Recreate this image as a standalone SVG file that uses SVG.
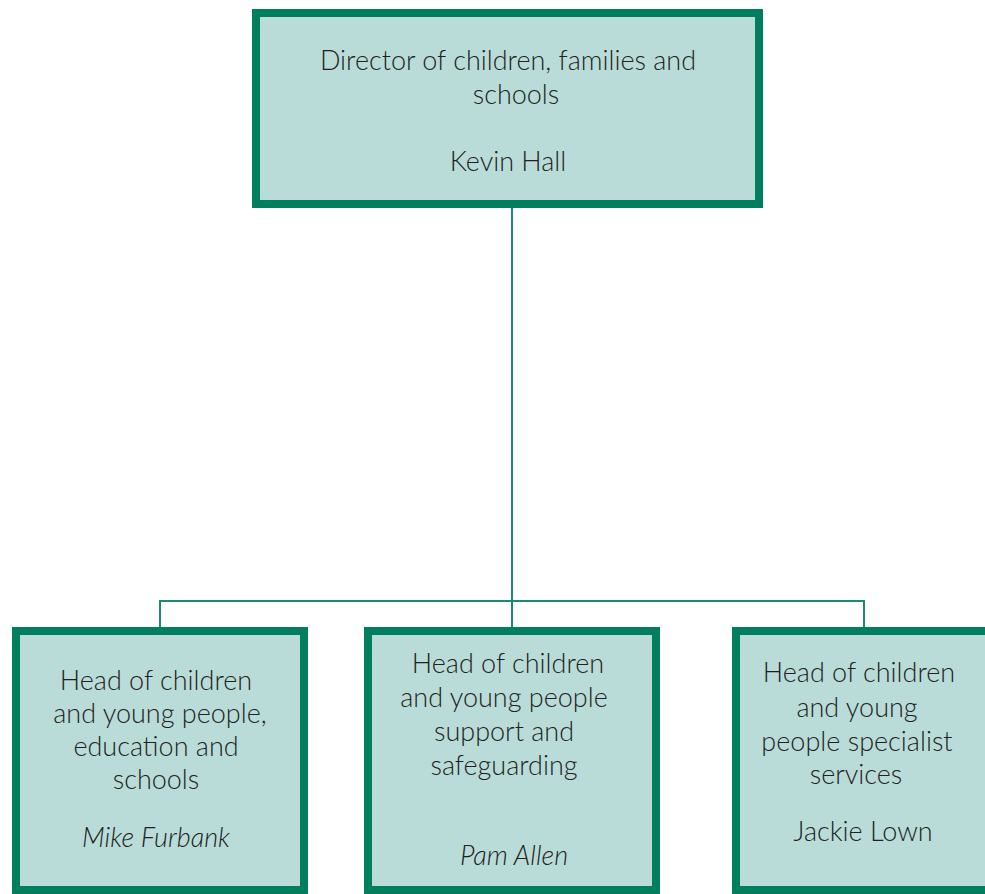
<svg xmlns="http://www.w3.org/2000/svg" width="985" height="894" viewBox="0 0 985 894">
<style>
.box{fill:#b9dcd8;stroke:#007f5f;stroke-width:8}
.t{font-family:Lato,"Open Sans","Liberation Sans",sans-serif;font-weight:300;font-size:27px;fill:#231f20;text-anchor:middle}
.i{font-style:italic}
.c{stroke:#1a8a78;stroke-width:2;fill:none}
</style>
<rect width="985" height="894" fill="#ffffff"/>
<g id="connectors">
<line class="c" x1="512" y1="200" x2="512" y2="628"/>
<line class="c" x1="160" y1="601" x2="864" y2="601"/>
<line class="c" x1="160" y1="600" x2="160" y2="628"/>
<line class="c" x1="864" y1="600" x2="864" y2="628"/>
</g>
<g id="director">
<rect class="box" x="256" y="13" width="503" height="191"/>
<text class="t" x="508" y="70">Director of children, families and</text>
<text class="t" x="516" y="104">schools</text>
<text class="t" x="508" y="171">Kevin Hall</text>
</g>
<g id="head-education">
<rect class="box" x="16" y="631" width="288" height="259"/>
<text class="t" x="156" y="690">Head of children</text>
<text class="t" x="160" y="723">and young people,</text>
<text class="t" x="156" y="756">education and</text>
<text class="t" x="156" y="789">schools</text>
<text class="t i" x="156" y="847">Mike Furbank</text>
</g>
<g id="head-support">
<rect class="box" x="368" y="631" width="288" height="259"/>
<text class="t" x="508" y="673">Head of children</text>
<text class="t" x="504" y="707">and young people</text>
<text class="t" x="504" y="741">support and</text>
<text class="t" x="504" y="775">safeguarding</text>
<text class="t i" x="514" y="865">Pam Allen</text>
</g>
<g id="head-specialist">
<rect class="box" x="736" y="631" width="290" height="259"/>
<text class="t" x="859" y="682">Head of children</text>
<text class="t" x="857" y="717">and young</text>
<text class="t" x="857" y="751">people specialist</text>
<text class="t" x="856" y="784">services</text>
<text class="t" x="863" y="841">Jackie Lown</text>
</g>
</svg>
